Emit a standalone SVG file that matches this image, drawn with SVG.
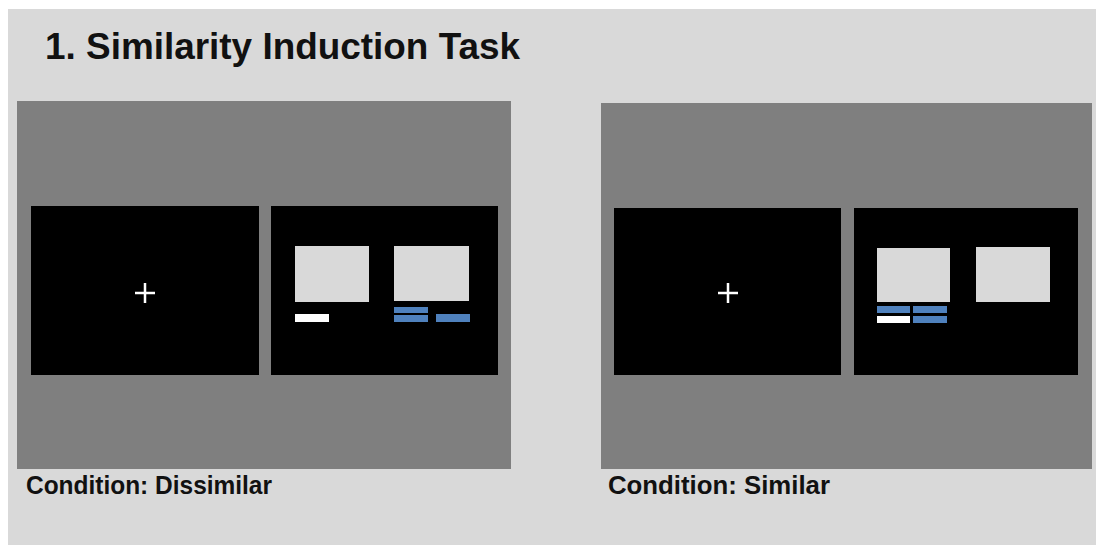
<svg xmlns="http://www.w3.org/2000/svg" width="1096" height="545" viewBox="0 0 1096 545">
<style>
.panel{fill:#7f7f7f}
.screen{fill:#000}
.card{fill:#d9d9d9}
.blue{fill:#4f81bd}
.white{fill:#fff}
.cross{stroke:#fff;stroke-width:2.5}
.title{font-family:"Liberation Sans",Arial,sans-serif;font-weight:bold;fill:#111}
</style>
<rect x="0" y="0" width="1096" height="545" fill="#fff"/>
<rect x="8" y="9" width="1088" height="536" fill="#d9d9d9"/>
<text class="title" x="45" y="59" font-size="37" textLength="475" lengthAdjust="spacingAndGlyphs">1. Similarity Induction Task</text>

<g id="dissimilar">
<rect class="panel" x="17" y="101" width="494" height="368"/>
<rect class="screen" x="31" y="206" width="228" height="169"/>
<path class="cross" d="M135 293H155M145 283V303"/>
<rect class="screen" x="271" y="206" width="227" height="169"/>
<rect class="card" x="295" y="246" width="74" height="56"/>
<rect class="card" x="394" y="246" width="75" height="55"/>
<rect class="white" x="295" y="314" width="34" height="8"/>
<rect class="blue" x="394" y="307" width="34" height="6"/>
<rect class="blue" x="394" y="315" width="34" height="7"/>
<rect class="blue" x="436" y="314" width="34" height="8"/>
</g>

<g id="similar">
<rect class="panel" x="601" y="103" width="491" height="366"/>
<rect class="screen" x="614" y="208" width="227" height="167"/>
<path class="cross" d="M718 293H738M728 283V303"/>
<rect class="screen" x="854" y="208" width="224" height="167"/>
<rect class="card" x="877" y="248" width="73" height="54"/>
<rect class="card" x="976" y="247" width="74" height="55"/>
<rect class="blue" x="877" y="306" width="33" height="7"/>
<rect class="white" x="877" y="316" width="33" height="7"/>
<rect class="blue" x="913" y="306" width="34" height="7"/>
<rect class="blue" x="913" y="316" width="34" height="7"/>
</g>

<g id="connectors"></g>

<text class="title" x="26" y="494" font-size="25" textLength="246" lengthAdjust="spacingAndGlyphs">Condition: Dissimilar</text>
<text class="title" x="608" y="494" font-size="25" textLength="222" lengthAdjust="spacingAndGlyphs">Condition: Similar</text>
</svg>
